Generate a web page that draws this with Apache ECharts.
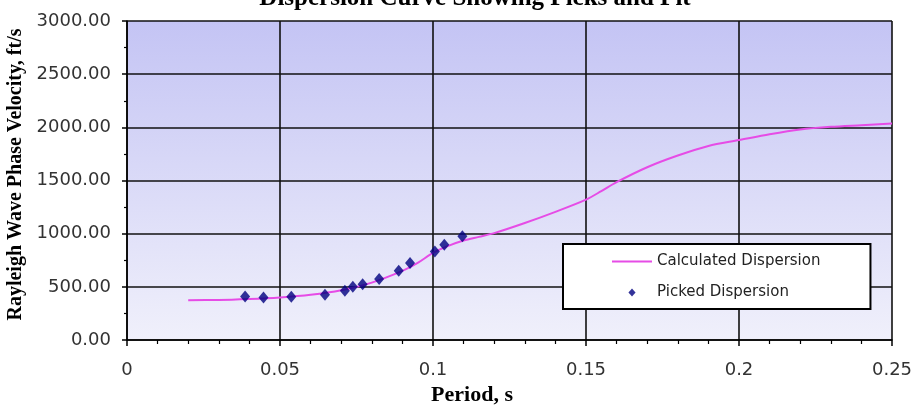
<!DOCTYPE html>
<html>
<head>
<meta charset="utf-8">
<script src="https://cdn.jsdelivr.net/npm/echarts@6/dist/echarts.min.js"></script>
<style>html,body{margin:0;padding:0;background:#fff;}#c{width:912px;height:405px;}</style>
</head>
<body>
<div id="c"></div>
<script>
const curvePeriod = [0.02,0.03,0.04,0.05,0.06,0.07,0.08,0.09,0.095,0.1,0.105,0.11,0.115,0.12,0.13,0.14,0.15,0.155,0.16,0.17,0.18,0.19,0.2,0.21,0.22,0.23,0.24,0.25];
const curveVelocity = [375,376,385,400,425,468,540,650,725,820,885,935,970,1005,1100,1205,1320,1400,1485,1625,1735,1825,1880,1935,1980,2005,2020,2035];
const pickedPeriod = [0.0386,0.0446,0.0537,0.0647,0.0712,0.0738,0.0770,0.0824,0.0888,0.0925,0.1006,0.1037,0.1096];
const pickedVelocity = [408,399,406,425,462,500,525,573,651,724,833,896,975];
const titleText = 'Dispersion Curve Showing Picks and Fit';
const xName = 'Period, s';
const yName = 'Rayleigh Wave Phase Velocity, ft/s';
const seriesNames = ['Calculated Dispersion', 'Picked Dispersion'];

const chart = echarts.init(document.getElementById('c'));
const labelFont = {fontFamily: 'DejaVu Sans', fontSize: 18, color: '#333'};
chart.setOption({
  animation: false,
  backgroundColor: '#fff',
  title: {
    text: titleText, left: 470, top: -19, textAlign: 'center',
    textStyle: {fontFamily: 'Liberation Serif', fontWeight: 'bold', fontSize: 25, color: '#000'}
  },
  grid: {
    left: 127, right: 20, top: 21, bottom: 65, show: true, borderWidth: 0,
    containLabel: false, outerBoundsMode: 'none',
    backgroundColor: new echarts.graphic.LinearGradient(0, 0, 0, 1, [
      {offset: 0, color: '#c4c4f4'}, {offset: 1, color: '#f0f0fb'}
    ])
  },
  legend: {
    orient: 'vertical', left: 563, top: 244,
    padding: [10, 50, 9, 49], itemGap: 16, itemWidth: 40, itemHeight: 8,
    symbolKeepAspect: true,
    backgroundColor: '#fff', borderColor: '#000', borderWidth: 2, borderRadius: 0,
    textStyle: {fontFamily: 'DejaVu Sans', fontSize: 15, color: '#222'},
    data: [
      {name: seriesNames[0], icon: 'path://M0,3L40,3L40,5L0,5Z'},
      {name: seriesNames[1], icon: 'path://M0,4L0,4M16,3.5L20,-1L24,3.5L20,8ZM40,4L40,4'}
    ]
  },
  xAxis: {
    type: 'value', min: 0, max: 0.25, interval: 0.05,
    name: xName, nameLocation: 'middle', nameGap: 40,
    nameTextStyle: {fontFamily: 'Liberation Serif', fontWeight: 'bold', fontSize: 22, color: '#000', padding: [0, 75, 0, 0]},
    axisLine: {show: true, lineStyle: {color: '#000', width: 1.5}},
    axisTick: {show: true, length: 6, lineStyle: {color: '#000', width: 1.5}},
    minorTick: {show: true, splitNumber: 5, length: 4, lineStyle: {color: '#000', width: 1.2}},
    axisLabel: Object.assign({margin: 21}, labelFont),
    splitLine: {show: true, lineStyle: {color: '#111', width: 1.6}}
  },
  yAxis: {
    type: 'value', min: 0, max: 3000, interval: 500,
    name: yName, nameLocation: 'middle', nameGap: 97, nameRotate: 90,
    nameTextStyle: {fontFamily: 'Liberation Serif', fontWeight: 'bold', fontSize: 20, color: '#000', padding: [0, 0, 0, 12]},
    axisLine: {show: true, lineStyle: {color: '#000', width: 1.5}},
    axisTick: {show: true, length: 5, lineStyle: {color: '#000', width: 1.5}},
    minorTick: {show: true, splitNumber: 2, length: 3, lineStyle: {color: '#000', width: 1.2}},
    axisLabel: Object.assign({margin: 16, formatter: v => v.toFixed(2)}, labelFont),
    splitLine: {show: true, lineStyle: {color: '#111', width: 1.6}}
  },
  series: [
    {
      name: seriesNames[0], type: 'line', smooth: 0.3, symbol: 'none',
      lineStyle: {color: '#e64ce6', width: 2}, itemStyle: {color: '#e64ce6'},
      data: curvePeriod.map((p, i) => [p, curveVelocity[i]]), z: 3
    },
    {
      name: seriesNames[1], type: 'scatter', symbol: 'diamond', symbolSize: [10, 12],
      itemStyle: {color: '#000080'},
      data: pickedPeriod.map((p, i) => [p, pickedVelocity[i]]), z: 4
    }
  ]
});
</script>
</body>
</html>
